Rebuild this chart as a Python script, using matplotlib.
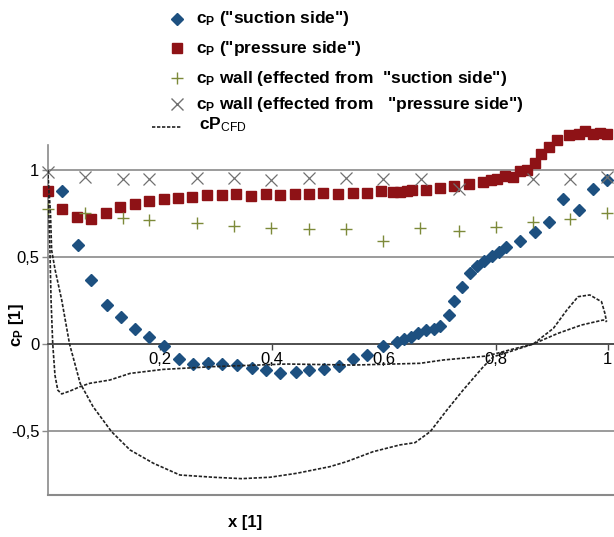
# Pressure coefficient along the chord: measured taps vs. CFD
import matplotlib.pyplot as plt
from matplotlib.lines import Line2D

plt.rcParams['font.family'] = ['Liberation Sans', 'DejaVu Sans']
plt.rcParams['mathtext.fontset'] = 'custom'
plt.rcParams['mathtext.rm'] = 'Liberation Sans'
plt.rcParams['mathtext.it'] = 'Liberation Sans:italic'
plt.rcParams['mathtext.bf'] = 'Liberation Sans:bold'

# cp ("suction side")
suction_x = [0.026, 0.054, 0.077, 0.105, 0.130, 0.156, 0.181, 0.208, 0.234, 0.259,
             0.287, 0.312, 0.338, 0.364, 0.390, 0.415, 0.443, 0.467, 0.493, 0.520,
             0.545, 0.570, 0.598, 0.623, 0.636, 0.649, 0.662, 0.676, 0.689, 0.701,
             0.716, 0.726, 0.740, 0.754, 0.766, 0.779, 0.793, 0.805, 0.819, 0.843,
             0.871, 0.896, 0.921, 0.949, 0.974, 0.999]
suction_cp = [0.881, 0.567, 0.366, 0.222, 0.153, 0.086, 0.038, -0.010, -0.088, -0.115,
              -0.109, -0.115, -0.123, -0.140, -0.149, -0.167, -0.163, -0.151, -0.144, -0.126,
              -0.086, -0.061, -0.011, 0.011, 0.027, 0.040, 0.061, 0.082, 0.088, 0.103,
              0.169, 0.247, 0.330, 0.410, 0.448, 0.479, 0.506, 0.530, 0.556, 0.594,
              0.642, 0.699, 0.831, 0.768, 0.893, 0.944]

# cp ("pressure side")
pressure_x = [0.000, 0.026, 0.052, 0.077, 0.104, 0.129, 0.155, 0.180, 0.208, 0.233,
              0.258, 0.284, 0.311, 0.336, 0.363, 0.389, 0.415, 0.441, 0.467, 0.492,
              0.518, 0.545, 0.570, 0.596, 0.617, 0.629, 0.641, 0.650, 0.676, 0.700,
              0.726, 0.753, 0.778, 0.791, 0.803, 0.817, 0.830, 0.843, 0.856, 0.870,
              0.881, 0.896, 0.909, 0.930, 0.948, 0.959, 0.973, 0.986, 0.999]
pressure_cp = [0.881, 0.774, 0.732, 0.717, 0.753, 0.785, 0.805, 0.820, 0.831, 0.841,
               0.847, 0.854, 0.854, 0.862, 0.852, 0.862, 0.854, 0.862, 0.862, 0.870,
               0.860, 0.870, 0.870, 0.877, 0.872, 0.875, 0.881, 0.883, 0.887, 0.897,
               0.909, 0.917, 0.932, 0.942, 0.950, 0.967, 0.958, 0.993, 1.002, 1.038,
               1.092, 1.134, 1.170, 1.203, 1.207, 1.222, 1.207, 1.213, 1.207]

# cp wall (effected from "suction side")
wall_s_x = [0.000, 0.067, 0.135, 0.181, 0.267, 0.333, 0.399, 0.467, 0.533, 0.599,
            0.665, 0.734, 0.800, 0.867, 0.933, 0.999]
wall_s_cp = [0.774, 0.751, 0.726, 0.713, 0.695, 0.680, 0.665, 0.659, 0.659, 0.594,
             0.665, 0.649, 0.674, 0.701, 0.720, 0.752]

# cp wall (effected from "pressure side")
wall_p_x = [0.000, 0.067, 0.135, 0.181, 0.267, 0.333, 0.399, 0.467, 0.533, 0.599,
            0.667, 0.734, 0.867, 0.933, 0.999]
wall_p_cp = [0.990, 0.958, 0.948, 0.948, 0.956, 0.952, 0.943, 0.952, 0.952, 0.948,
             0.948, 0.889, 0.946, 0.946, 0.962]

# CFD, upper branch (shallow) and lower branch (deep loop)
cfd_a_x = [0.000, 0.002, 0.004, 0.006, 0.009, 0.013, 0.018, 0.025, 0.040, 0.058,
           0.075, 0.111, 0.147, 0.206, 0.296, 0.427, 0.546, 0.665, 0.706, 0.784,
           0.825, 0.867, 0.911, 0.953, 0.992, 0.998]
cfd_a_cp = [1.000, 0.750, 0.540, 0.250, 0.000, -0.180, -0.265, -0.287, -0.270, -0.245,
            -0.226, -0.207, -0.169, -0.146, -0.130, -0.115, -0.121, -0.111, -0.092, -0.069,
            -0.034, 0.000, 0.061, 0.109, 0.138, 0.128]
cfd_b_x = [0.000, 0.005, 0.007, 0.013, 0.025, 0.039, 0.058, 0.081, 0.114, 0.147,
           0.189, 0.236, 0.296, 0.346, 0.397, 0.445, 0.504, 0.534, 0.581, 0.629,
           0.656, 0.683, 0.713, 0.742, 0.778, 0.796, 0.825, 0.867, 0.903, 0.927,
           0.947, 0.968, 0.989, 0.995, 0.998]
cfd_b_cp = [1.000, 0.750, 0.540, 0.430, 0.253, 0.000, -0.226, -0.360, -0.504, -0.609,
            -0.686, -0.753, -0.766, -0.774, -0.766, -0.743, -0.705, -0.676, -0.619, -0.580,
            -0.567, -0.504, -0.379, -0.264, -0.130, -0.073, -0.044, 0.000, 0.090, 0.195,
            0.272, 0.282, 0.243, 0.176, 0.128]

BLUE = '#1d5080'
RED = '#8e1216'
OLIVE = '#7d8a3a'
GRAY = '#707070'

W, H = 614, 537
fig = plt.figure(figsize=(W / 100, H / 100), dpi=100)
ax = fig.add_axes([47.7 / W, 1 - 495 / H, (W - 47.7) / W, (495 - 145) / H])

ymin, ymax = -0.868, 1.144
ax.set_xlim(0, (W - 47.7) / 560)
ax.set_ylim(ymin, ymax)

# grid and axis lines
ax.set_yticks([-0.5, 0, 0.5, 1])
ax.set_yticklabels(['-0,5', '0', '0,5', '1'])
ax.set_xticks([0.2, 0.4, 0.6, 0.8, 1.0])
ax.set_xticklabels(['0,2', '0,4', '0,6', '0,8', '1'])
ax.yaxis.grid(True, color='#8a8a8a', lw=1.2)
ax.set_axisbelow(True)
for s in ['top', 'right']:
    ax.spines[s].set_visible(False)
ax.spines['bottom'].set_position(('data', 0))
ax.spines['bottom'].set_color('#444444')
ax.spines['bottom'].set_linewidth(1.2)
ax.spines['left'].set_color('#8a8a8a')
ax.spines['left'].set_linewidth(1.2)
ax.axhline(ymin, color='#8a8a8a', lw=1.5, clip_on=False)
ax.tick_params(axis='x', length=4, width=1, color='#444444', labelsize=12, pad=2)
ax.tick_params(axis='y', length=4, width=1, color='#8a8a8a', labelsize=12, pad=2)

# measured points
ax.plot(suction_x, suction_cp, 'D', color=BLUE, ms=6, mec=BLUE, clip_on=False, zorder=3)
ax.plot(pressure_x, pressure_cp, 's', color=RED, ms=7, mec=RED, clip_on=False, zorder=3)
ax.plot(wall_s_x, wall_s_cp, '+', color=OLIVE, ms=8, mew=1, clip_on=False, zorder=4)
ax.plot(wall_p_x, wall_p_cp, 'x', color=GRAY, ms=8, mew=0.9, clip_on=False, zorder=4)

# CFD curves
ax.plot(cfd_a_x, cfd_a_cp, color='#222222', lw=1.2, ls=(0, (2, 1)), zorder=5)
ax.plot(cfd_b_x, cfd_b_cp, color='#222222', lw=1.2, ls=(0, (2, 1)), zorder=5)

fig.text(17 / W, 1 - 325 / H, r'$\mathbf{c_P}$ [1]', fontsize=12, fontweight='bold',
         rotation=90, ha='center', va='center')
fig.text(245 / W, 1 - 522 / H, 'x [1]', fontsize=12, fontweight='bold',
         ha='center', va='center')

# legend drawn by hand above the plot
entries = [
    ('D', BLUE, 6, r'$\mathbf{c_P}$ ("suction side")', 19),
    ('s', RED, 7, r'$\mathbf{c_P}$ ("pressure side")', 48),
    ('+', OLIVE, 8, r'$\mathbf{c_P}$ wall (effected from  "suction side")', 78),
    ('x', GRAY, 8, r'$\mathbf{c_P}$ wall (effected from   "pressure side")', 104),
]
for marker, color, ms, label, py in entries:
    fig.add_artist(Line2D([177 / W], [1 - py / H], marker=marker, color=color,
                          mec=color, ms=ms, mew=1, ls='none',
                          transform=fig.transFigure))
    fig.text(196 / W, 1 - py / H, label, fontsize=12.5, fontweight='bold', va='center')

fig.add_artist(Line2D([152 / W, 182 / W], [1 - 127 / H, 1 - 127 / H], color='#222222',
                      lw=1.2, ls=(0, (2, 1)), transform=fig.transFigure))
fig.text(199 / W, 1 - 125 / H, r'$\mathbf{cP}_{\mathrm{CFD}}$', fontsize=12.5, va='center')

fig.savefig('out.png', dpi=100)
